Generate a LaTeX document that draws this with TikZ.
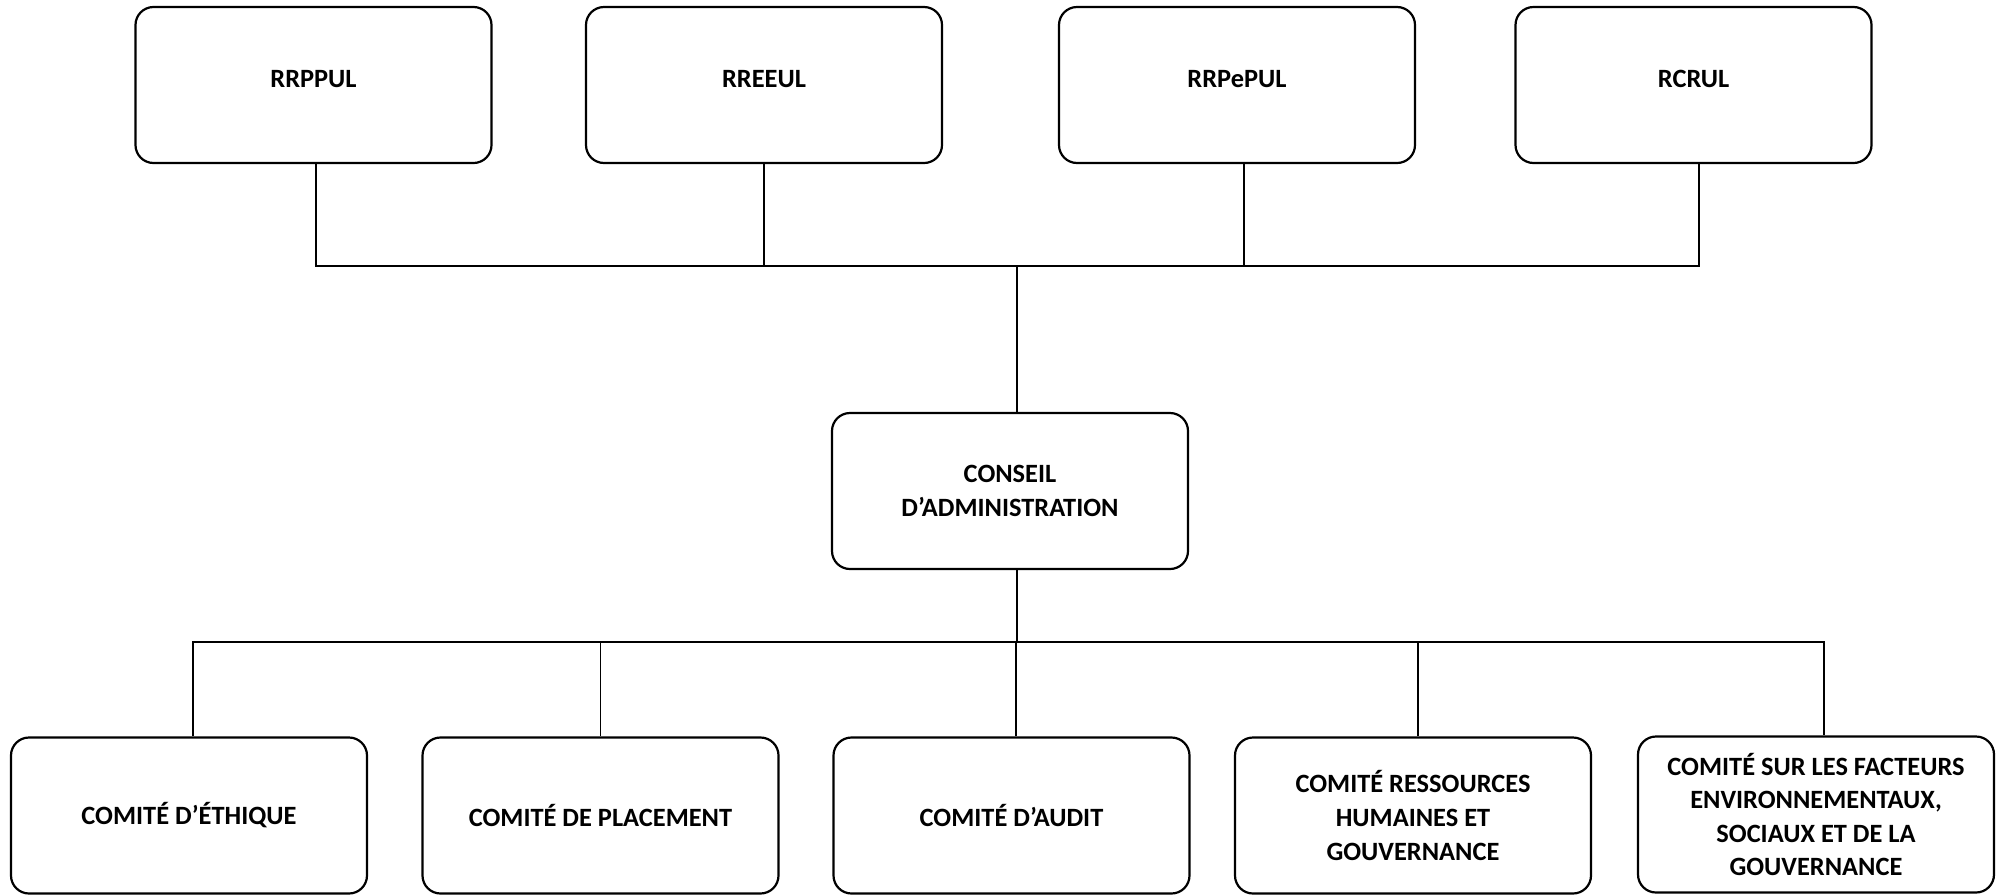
\documentclass[tikz,border=0pt]{standalone}
\usepackage{fontspec}
\setmainfont{Carlito}
\usetikzlibrary{positioning}

\begin{document}
\begin{tikzpicture}[
  x=0.5pt, y=-0.5pt,
  box/.style = {draw, line width=1.1pt, rounded corners=9pt,
                minimum width=178pt, minimum height=78pt, inner sep=2pt,
                align=center, font=\fontsize{13.2}{16.8}\selectfont\bfseries},
  topbox/.style = {box, text depth=6pt},
  line/.style = {line width=0.8pt}
]

  \useasboundingbox (0,0) rectangle (2007,895);

  % regimes
  \node[topbox] (rrppul)  at (313.5,85) {RRPPUL};
  \node[topbox] (rreeul)  at (764,85)   {RREEUL};
  \node[topbox] (rrpepul) at (1237,85)  {RRPePUL};
  \node[topbox] (rcrul)   at (1693.5,85){RCRUL};

  \node[box] (ca) at (1010,491) {CONSEIL\\D’ADMINISTRATION};

  % comites
  \node[box] (ethique)   at (189,815.5)    {COMITÉ D’ÉTHIQUE};
  \node[box] (placement) at (600.5,815.5)  {COMITÉ DE PLACEMENT};
  \node[box] (audit)     at (1011.5,815.5) {COMITÉ D’AUDIT};
  \node[box] (rhg)       at (1413,815.5)   {COMITÉ RESSOURCES\\HUMAINES ET\\GOUVERNANCE};
  \node[box] (esg)       at (1816,814.5)   {COMITÉ SUR LES FACTEURS\\ENVIRONNEMENTAUX,\\SOCIAUX ET DE LA\\GOUVERNANCE};

  \coordinate (topbar) at (1017,266);
  \coordinate (botbar) at (1017,642);

  \draw[line] ([xshift=1.25pt]rrppul.south) |- (topbar) -| ([xshift=2.75pt]rcrul.south);
  \draw[line] (rreeul.south) -- (rreeul.south |- topbar);
  \draw[line] ([xshift=3.5pt]rrpepul.south) -- ([xshift=3.5pt]rrpepul.south |- topbar);
  \draw[line] (topbar) -- (ca.north -| topbar);

  \draw[line] (ca.south -| botbar) -- (botbar);
  \draw[line] ([xshift=2pt]ethique.north) |- (botbar) -| ([xshift=4pt]esg.north);
  \draw[line] (placement.north) -- (placement.north |- botbar);
  \draw[line] ([xshift=2.25pt]audit.north) -- ([xshift=2.25pt]audit.north |- botbar);
  \draw[line] ([xshift=2.5pt]rhg.north) -- ([xshift=2.5pt]rhg.north |- botbar);

\end{tikzpicture}
\end{document}
